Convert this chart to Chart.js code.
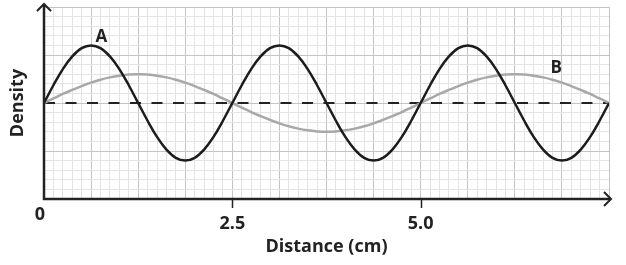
<!DOCTYPE html>
<html>
<head>
<meta charset="utf-8">
<script src="https://cdn.jsdelivr.net/npm/chart.js@4"></script>
<style>
html,body{margin:0;padding:0;background:#fff;}
#wrap{width:626px;height:265px;position:relative;}
</style>
</head>
<body>
<div id="wrap"><canvas id="c"></canvas></div>
<script>
// Distance (cm), sampled every 0.125 cm
const distances = [0,0.125,0.25,0.375,0.5,0.625,0.75,0.875,1,1.125,1.25,1.375,1.5,1.625,1.75,1.875,2,2.125,2.25,2.375,
  2.5,2.625,2.75,2.875,3,3.125,3.25,3.375,3.5,3.625,3.75,3.875,4,4.125,4.25,4.375,4.5,4.625,4.75,4.875,
  5,5.125,5.25,5.375,5.5,5.625,5.75,5.875,6,6.125,6.25,6.375,6.5,6.625,6.75,6.875,7,7.125,7.25,7.375,7.5];
// Wave A (density relative to mean)
const waveA = [0,1.85,3.53,4.85,5.71,6,5.71,4.85,3.53,1.85,0,-1.85,-3.53,-4.85,-5.71,-6,-5.71,-4.85,-3.53,-1.85,
  0,1.85,3.53,4.85,5.71,6,5.71,4.85,3.53,1.85,0,-1.85,-3.53,-4.85,-5.71,-6,-5.71,-4.85,-3.53,-1.85,
  0,1.85,3.53,4.85,5.71,6,5.71,4.85,3.53,1.85,0,-1.85,-3.53,-4.85,-5.71,-6,-5.71,-4.85,-3.53,-1.85,0];
// Wave B
const waveB = [0,0.47,0.94,1.36,1.76,2.12,2.43,2.67,2.85,2.96,3,2.96,2.85,2.67,2.43,2.12,1.76,1.36,0.94,0.47,
  0,-0.47,-0.94,-1.36,-1.76,-2.12,-2.43,-2.67,-2.85,-2.96,-3,-2.96,-2.85,-2.67,-2.43,-2.12,-1.76,-1.36,-0.94,-0.47,
  0,0.47,0.94,1.36,1.76,2.12,2.43,2.67,2.85,2.96,3,2.96,2.85,2.67,2.43,2.12,1.76,1.36,0.94,0.47,0];
const meanLine = [0, 0];
const meanX = [0, 7.5];
const tickLabels = ['2.5', '5.0'];
const originLabel = '0';
const waveLabels = [{text:'A', x:0.76, y:6.9}, {text:'B', x:6.8, y:3.6}];

const FONT = "'Open Sans', 'DejaVu Sans', sans-serif";
const INK = '#222222';
const FS = 18;

const toPts = (xs, ys) => xs.map((x, i) => ({x, y: ys[i]}));
const isMult = (v, s) => Math.abs(v / s - Math.round(v / s)) < 1e-6;

const decor = {
  id: 'decor',
  afterDraw(chart) {
    const {ctx, scales: {x, y}} = chart;
    ctx.save();
    ctx.strokeStyle = INK;
    ctx.lineWidth = 2.5;
    ctx.lineCap = 'butt';
    const x0 = x.getPixelForValue(0);
    const yb = y.getPixelForValue(-10);
    const yt = y.getPixelForValue(10);
    const xr = x.getPixelForValue(7.5) + 2;
    ctx.beginPath();
    ctx.moveTo(x0, yb + 1.2); ctx.lineTo(x0, yt - 3);
    ctx.moveTo(x0 - 1.2, yb); ctx.lineTo(xr, yb);
    ctx.stroke();
    ctx.lineWidth = 2;
    ctx.lineJoin = 'miter';
    ctx.beginPath();
    ctx.moveTo(x0 - 7, yt + 4); ctx.lineTo(x0, yt - 3); ctx.lineTo(x0 + 7, yt + 4);
    ctx.moveTo(xr - 7, yb - 7); ctx.lineTo(xr, yb); ctx.lineTo(xr - 7, yb + 7);
    ctx.stroke();
    ctx.lineWidth = 1.5;
    ctx.beginPath();
    [2.5, 5].forEach(v => {
      const px = Math.round(x.getPixelForValue(v)) + 0.5;
      ctx.moveTo(px, yb); ctx.lineTo(px, yb + 9);
    });
    ctx.stroke();
    ctx.fillStyle = INK;
    ctx.font = "bold " + FS + "px " + FONT;
    ctx.textAlign = 'center';
    ctx.textBaseline = 'middle';
    ctx.fillText(originLabel, x0 - 4, yb + 16);
    ctx.font = "bold 17px " + FONT;
    waveLabels.forEach(l => {
      ctx.fillText(l.text, x.getPixelForValue(l.x), y.getPixelForValue(l.y));
    });
    ctx.restore();
  }
};

new Chart(document.getElementById('c'), {
  type: 'line',
  data: {
    datasets: [
      {label: 'mean', data: toPts(meanX, meanLine), borderColor: INK, borderWidth: 2, borderDash: [11, 10.5], pointRadius: 0, order: 3},
      {label: 'B', data: toPts(distances, waveB), borderColor: '#a8a8a8', borderWidth: 2.5, pointRadius: 0, tension: 0.4, order: 2},
      {label: 'A', data: toPts(distances, waveA), borderColor: '#1c1c1c', borderWidth: 2.5, pointRadius: 0, tension: 0.4, order: 1}
    ]
  },
  options: {
    responsive: true,
    maintainAspectRatio: false,
    animation: false,
    layout: {padding: {top: 7, right: 17, left: 0, bottom: 0}},
    plugins: {legend: {display: false}, tooltip: {enabled: false}},
    scales: {
      x: {
        type: 'linear', min: 0, max: 7.5,
        border: {display: false},
        grid: {
          drawTicks: false,
          lineWidth: 1,
          color: c => (c.tick && isMult(c.tick.value, 0.625)) ? '#c4c4c4' : '#e4e4e4'
        },
        ticks: {
          stepSize: 0.125, autoSkip: false, maxRotation: 0, padding: 14,
          color: INK, font: {family: FONT, size: FS, weight: 'bold'},
          callback: v => isMult(v - 2.5, 2.5) && v > 0 && v < 7 ? tickLabels[Math.round(v / 2.5) - 1] : ''
        },
        title: {display: true, text: 'Distance (cm)', color: INK, font: {family: FONT, size: FS, weight: 'bold'}, padding: {top: 0, bottom: 7}},
        afterFit: s => { s.height = 66; }
      },
      y: {
        type: 'linear', min: -10, max: 10,
        border: {display: false},
        grid: {
          drawTicks: false,
          lineWidth: 1,
          color: c => (c.tick && isMult(c.tick.value, 5)) ? '#c4c4c4' : '#e4e4e4'
        },
        ticks: {stepSize: 1, display: false},
        title: {display: true, text: 'Density', color: INK, font: {family: FONT, size: FS, weight: 'bold'}, padding: {top: 7, bottom: 0}},
        afterFit: s => { s.width = 44; }
      }
    }
  },
  plugins: [decor]
});
</script>
</body>
</html>
